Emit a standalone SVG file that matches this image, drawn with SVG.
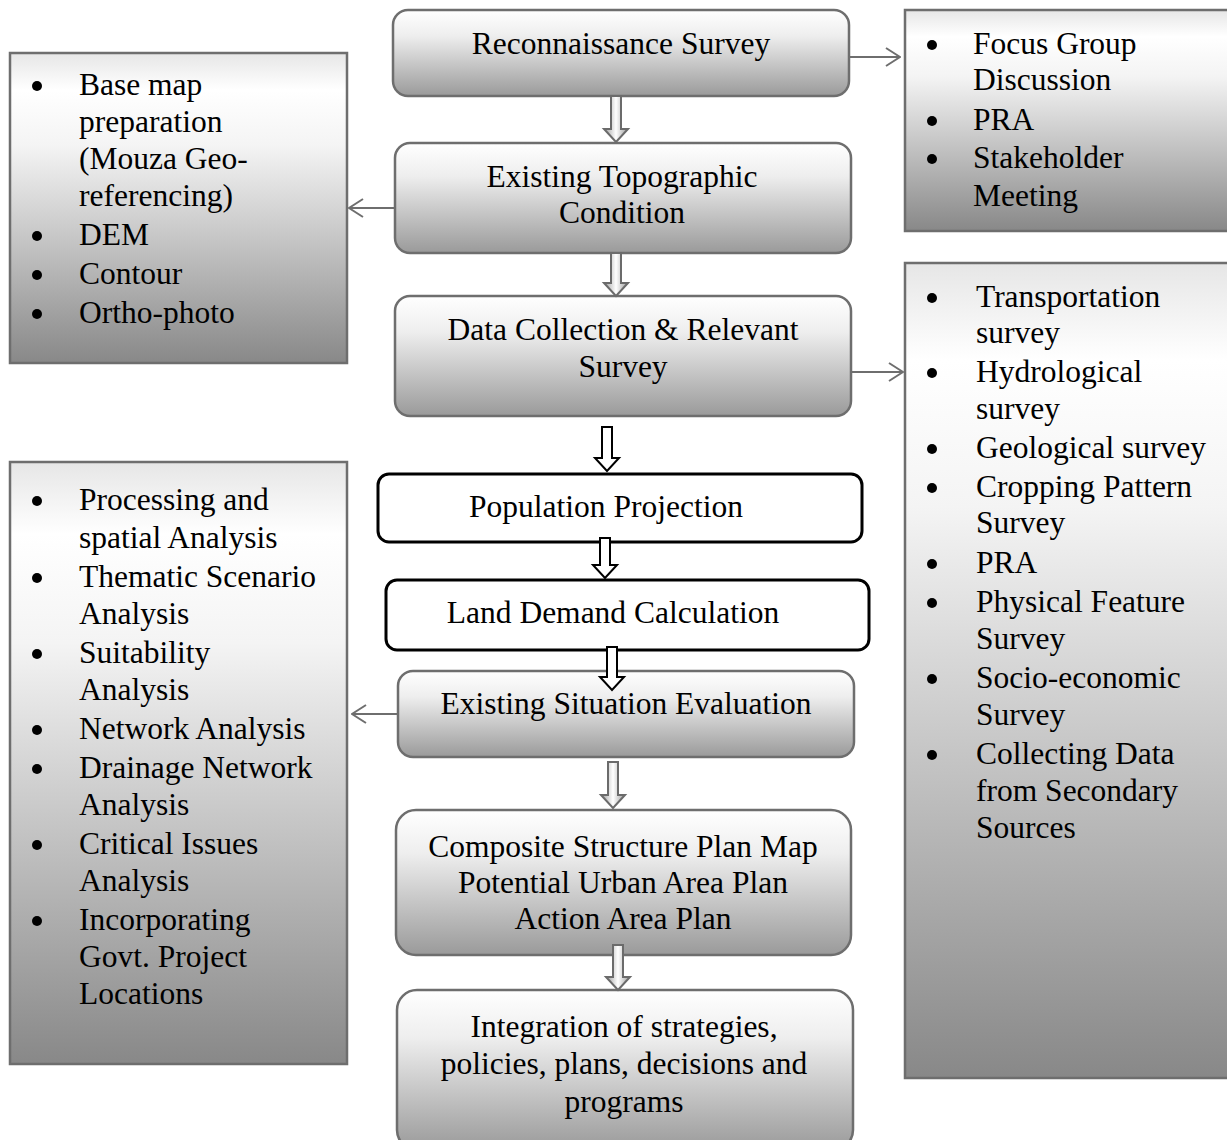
<svg xmlns="http://www.w3.org/2000/svg" width="1227" height="1140" viewBox="0 0 1227 1140">
<defs>
<linearGradient id="gc" x1="0" y1="0" x2="0" y2="1">
<stop offset="0" stop-color="#ffffff"/>
<stop offset="0.3" stop-color="#eeeeee"/>
<stop offset="1" stop-color="#9a9a9a"/>
</linearGradient>
<linearGradient id="gs" x1="0" y1="0" x2="0" y2="1">
<stop offset="0" stop-color="#e6e6e6"/>
<stop offset="0.12" stop-color="#ffffff"/>
<stop offset="0.3" stop-color="#f4f4f4"/>
<stop offset="1" stop-color="#888888"/>
</linearGradient>
<linearGradient id="ga" x1="0" y1="0" x2="1" y2="0">
<stop offset="0" stop-color="#9a9a9a"/>
<stop offset="0.5" stop-color="#ffffff"/>
<stop offset="1" stop-color="#9a9a9a"/>
</linearGradient>
<marker id="open" viewBox="0 0 16 20" refX="15" refY="10" markerWidth="16" markerHeight="20" markerUnits="userSpaceOnUse" orient="auto">
<path d="M1,1 L15,10 L1,19" fill="none" stroke="#6e6e6e" stroke-width="2"/>
</marker>
</defs>
<style>
text{font-family:"Liberation Serif","Times New Roman",serif;font-size:31.5px;fill:#000}
.c{text-anchor:middle}
.cb{fill:url(#gc);stroke:#6e6e6e;stroke-width:2.5}
.sb{fill:url(#gs);stroke:#6e6e6e;stroke-width:2.5}
.wb{fill:#ffffff;stroke:#000;stroke-width:3}
.ga{fill:url(#ga);stroke:#6b6b6b;stroke-width:2}
.wa{fill:#ffffff;stroke:#000;stroke-width:2}
.ln{fill:none;stroke:#6e6e6e;stroke-width:2}
.bu{fill:#000}
</style>
<rect width="1227" height="1140" fill="#ffffff"/>

<g id="recon">
<rect class="cb" x="393" y="10" width="456" height="86" rx="15"/>
<text class="c" x="621" y="54">Reconnaissance Survey</text>
</g>

<g id="topo">
<rect class="cb" x="395" y="143" width="456" height="110" rx="15"/>
<text class="c" x="622" y="187">Existing Topographic</text>
<text class="c" x="622" y="223">Condition</text>
</g>

<g id="datacollection">
<rect class="cb" x="395" y="296" width="456" height="120" rx="15"/>
<text class="c" x="623" y="340">Data Collection &amp; Relevant</text>
<text class="c" x="623" y="377">Survey</text>
</g>

<g id="population">
<rect class="wb" x="378" y="474" width="484" height="68" rx="11"/>
<text class="c" x="606" y="517">Population Projection</text>
</g>

<g id="landdemand">
<rect class="wb" x="386" y="580" width="483" height="70" rx="11"/>
<text class="c" x="613" y="623">Land Demand Calculation</text>
</g>

<g id="situation">
<rect class="cb" x="398" y="671" width="456" height="86" rx="15"/>
<text class="c" x="626" y="714">Existing Situation Evaluation</text>
</g>

<g id="composite">
<rect class="cb" x="396" y="810" width="455" height="145" rx="20"/>
<text class="c" x="623" y="857">Composite Structure Plan Map</text>
<text class="c" x="623" y="893">Potential Urban Area Plan</text>
<text class="c" x="623" y="929">Action Area Plan</text>
</g>

<g id="integration">
<rect class="cb" x="397" y="990" width="456" height="160" rx="20"/>
<text class="c" x="624" y="1037">Integration of strategies,</text>
<text class="c" x="624" y="1074">policies, plans, decisions and</text>
<text class="c" x="624" y="1112">programs</text>
</g>

<g id="topo-tasks">
<rect class="sb" x="10" y="53" width="337" height="310"/>
<circle class="bu" cx="37" cy="86" r="5"/><text x="79" y="95">Base map</text>
<text x="79" y="132">preparation</text>
<text x="79" y="169">(Mouza Geo-</text>
<text x="79" y="206">referencing)</text>
<circle class="bu" cx="37" cy="236" r="5"/><text x="79" y="245">DEM</text>
<circle class="bu" cx="37" cy="275" r="5"/><text x="79" y="284">Contour</text>
<circle class="bu" cx="37" cy="314" r="5"/><text x="79" y="323">Ortho-photo</text>
</g>

<g id="recon-tasks">
<rect class="sb" x="905" y="10" width="330" height="221"/>
<circle class="bu" cx="932" cy="45" r="5"/><text x="973" y="54">Focus Group</text>
<text x="973" y="90">Discussion</text>
<circle class="bu" cx="932" cy="121" r="5"/><text x="973" y="130">PRA</text>
<circle class="bu" cx="932" cy="159" r="5"/><text x="973" y="168">Stakeholder</text>
<text x="973" y="206">Meeting</text>
</g>

<g id="survey-tasks">
<rect class="sb" x="905" y="263" width="330" height="815"/>
<circle class="bu" cx="932" cy="298" r="5"/><text x="976" y="307">Transportation</text>
<text x="976" y="343">survey</text>
<circle class="bu" cx="932" cy="373" r="5"/><text x="976" y="382">Hydrological</text>
<text x="976" y="419">survey</text>
<circle class="bu" cx="932" cy="449" r="5"/><text x="976" y="458">Geological survey</text>
<circle class="bu" cx="932" cy="488" r="5"/><text x="976" y="497">Cropping Pattern</text>
<text x="976" y="533">Survey</text>
<circle class="bu" cx="932" cy="564" r="5"/><text x="976" y="573">PRA</text>
<circle class="bu" cx="932" cy="603" r="5"/><text x="976" y="612">Physical Feature</text>
<text x="976" y="649">Survey</text>
<circle class="bu" cx="932" cy="679" r="5"/><text x="976" y="688">Socio-economic</text>
<text x="976" y="725">Survey</text>
<circle class="bu" cx="932" cy="755" r="5"/><text x="976" y="764">Collecting Data</text>
<text x="976" y="801">from Secondary</text>
<text x="976" y="838">Sources</text>
</g>

<g id="analysis-tasks">
<rect class="sb" x="10" y="462" width="337" height="602"/>
<circle class="bu" cx="37" cy="501" r="5"/><text x="79" y="510">Processing and</text>
<text x="79" y="548">spatial Analysis</text>
<circle class="bu" cx="37" cy="578" r="5"/><text x="79" y="587">Thematic Scenario</text>
<text x="79" y="624">Analysis</text>
<circle class="bu" cx="37" cy="654" r="5"/><text x="79" y="663">Suitability</text>
<text x="79" y="700">Analysis</text>
<circle class="bu" cx="37" cy="730" r="5"/><text x="79" y="739">Network Analysis</text>
<circle class="bu" cx="37" cy="769" r="5"/><text x="79" y="778">Drainage Network</text>
<text x="79" y="815">Analysis</text>
<circle class="bu" cx="37" cy="845" r="5"/><text x="79" y="854">Critical Issues</text>
<text x="79" y="891">Analysis</text>
<circle class="bu" cx="37" cy="921" r="5"/><text x="79" y="930">Incorporating</text>
<text x="79" y="967">Govt. Project</text>
<text x="79" y="1004">Locations</text>
</g>

<g id="connectors">
<line class="ln" x1="849" y1="57" x2="900" y2="57" marker-end="url(#open)"/>
<line class="ln" x1="395" y1="208" x2="349" y2="208" marker-end="url(#open)"/>
<line class="ln" x1="851" y1="372" x2="903" y2="372" marker-end="url(#open)"/>
<line class="ln" x1="398" y1="714" x2="352" y2="714" marker-end="url(#open)"/>
<path class="ga" d="M611,96 L621,96 L621,129 L628,129 L616,142 L604,129 L611,129 Z"/>
<path class="ga" d="M611,253 L621,253 L621,283 L628,283 L616,296 L604,283 L611,283 Z"/>
<path class="wa" d="M602,427 L612,427 L612,458 L619,458 L607,471 L595,458 L602,458 Z"/>
<path class="wa" d="M600,538 L610,538 L610,565 L617,565 L605,578 L593,565 L600,565 Z"/>
<path class="wa" d="M607,647 L617,647 L617,677 L624,677 L612,690 L600,677 L607,677 Z"/>
<path class="ga" d="M608,762 L618,762 L618,795 L625,795 L613,808 L601,795 L608,795 Z"/>
<path class="ga" d="M613,945 L623,945 L623,977 L630,977 L618,990 L606,977 L613,977 Z"/>
</g>
</svg>
